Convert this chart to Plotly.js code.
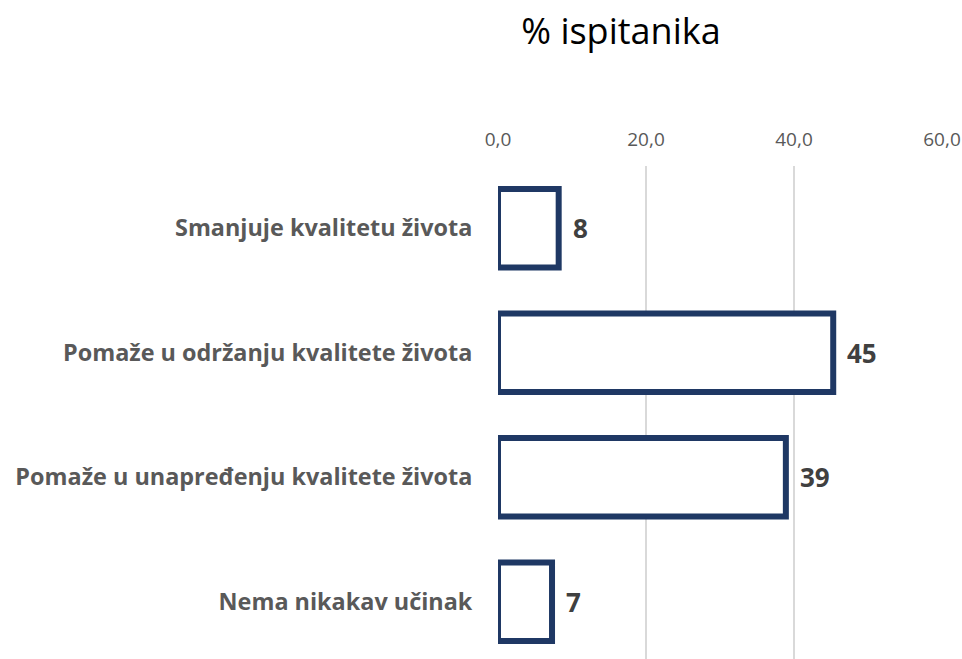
<!DOCTYPE html>
<html>
<head>
<meta charset="utf-8">
<script src="https://cdn.plot.ly/plotly-3.0.1.min.js"></script>
<style>
html,body{margin:0;padding:0;background:#fff;overflow:hidden;}
#chart{width:962px;height:659px;}
</style>
</head>
<body>
<div id="chart"></div>
<script>
const categories = [
  "Smanjuje kvalitetu života",
  "Pomaže u održanju kvalitete života",
  "Pomaže u unapređenju kvalitete života",
  "Nema nikakav učinak"
];
const values = [8.2, 45.3, 38.9, 7.3];
const tickVals = [0, 20, 40, 60];
const titleText = "% ispitanika";

const trace = {
  type: "bar",
  orientation: "h",
  y: categories,
  x: values,
  width: 0.63,
  marker: {color: "#ffffff", line: {color: "#1F3864", width: 6}},
  cliponaxis: false,
  hoverinfo: "skip"
};

const annotations = categories.map((c, i) => ({
  x: values[i], y: c, xref: "x", yref: "y",
  text: String(Math.round(values[i])),
  showarrow: false, xanchor: "left", yanchor: "middle",
  xshift: 12,
  font: {family: "Open Sans", size: 26, color: "#404040", weight: "bold"}
}));

const layout = {
  width: 962, height: 659,
  margin: {l: 498, r: 20, t: 166, b: 0, pad: 0},
  paper_bgcolor: "#ffffff", plot_bgcolor: "#ffffff",
  separators: ",.",
  showlegend: false,
  annotations: annotations,
  title: {
    text: titleText,
    font: {family: "Open Sans", size: 36, color: "#000000"},
    xref: "container", x: 0.6455, xanchor: "center",
    yref: "container", y: 0.952, yanchor: "middle"
  },
  xaxis: {
    side: "top",
    range: [0, 60],
    tickvals: tickVals,
    tickformat: ".1f",
    tickfont: {family: "Open Sans", size: 19, color: "#595959"},
    ticks: "outside", ticklen: 11, tickcolor: "rgba(0,0,0,0)",
    showgrid: true, gridcolor: "#D9D9D9", gridwidth: 1.5,
    zeroline: false, showline: false
  },
  yaxis: {
    type: "category",
    range: [3.46, -0.5],
    tickfont: {family: "Open Sans", size: 23.4, color: "#595959", weight: "bold"},
    ticks: "outside", ticklen: 20, tickcolor: "rgba(0,0,0,0)",
    showgrid: false, zeroline: false, showline: false
  }
};

Plotly.newPlot("chart", [trace], layout, {displayModeBar: false, staticPlot: true});
</script>
</body>
</html>
